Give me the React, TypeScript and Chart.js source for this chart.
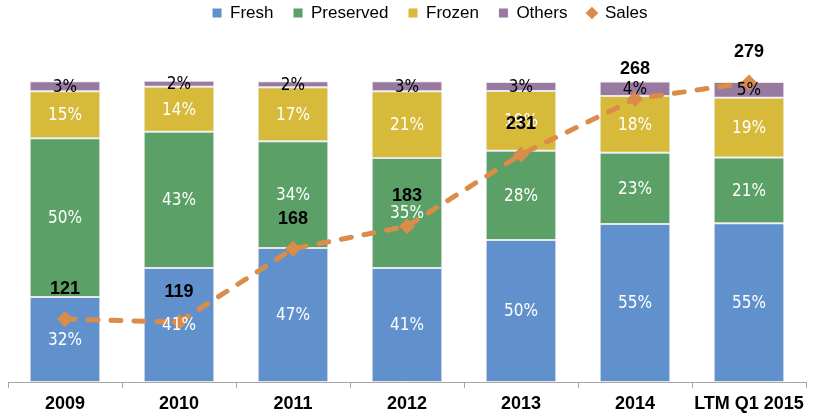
import React, { useEffect, useRef } from 'react';
import { Chart, registerables } from 'chart.js';

Chart.register(...registerables);

const categories = ['2009', '2010', '2011', '2012', '2013', '2014', 'LTM Q1 2015'];

// Segment shares (bar heights)
const freshShare = [28.2, 37.9, 44.5, 37.9, 47.2, 52.5, 52.7];
const preservedShare = [52.8, 45.2, 35.5, 36.5, 29.6, 23.7, 21.9];
const frozenShare = [15.6, 15.0, 17.9, 22.2, 19.9, 18.8, 19.8];
const othersShare = [3.3, 2.0, 2.0, 3.3, 3.0, 4.8, 5.3];

// Percent labels as printed on the bars
const freshLabels = ['32%', '41%', '47%', '41%', '50%', '55%', '55%'];
const preservedLabels = ['50%', '43%', '34%', '35%', '28%', '23%', '21%'];
const frozenLabels = ['15%', '14%', '17%', '21%', '19%', '18%', '19%'];
const othersLabels = ['3%', '2%', '2%', '3%', '3%', '4%', '5%'];

// Sales (line, secondary axis)
const sales = [121, 119, 168, 183, 231, 268, 279];

const BLUE = '#6191CD';
const GREEN = '#5BA167';
const YELLOW = '#D7BA39';
const PURPLE = '#9879A0';
const ORANGE = '#DA8C48';

const PCT_FONT = '17px "Liberation Sans Narrow", "DejaVu Sans Condensed", sans-serif';
const SALES_FONT = 'bold 18px "Liberation Sans", Arial, sans-serif';

const labelPlugin = {
  id: 'valueLabels',
  afterDatasetsDraw(chart: any) {
    const ctx = chart.ctx;
    ctx.save();
    ctx.textAlign = 'center';
    ctx.textBaseline = 'middle';
    const lists = [freshLabels, preservedLabels, frozenLabels, othersLabels];
    lists.forEach((list, di) => {
      const meta = chart.getDatasetMeta(di);
      ctx.font = PCT_FONT;
      ctx.fillStyle = di === 3 ? '#000000' : '#FFFFFF';
      meta.data.forEach((el: any, i: number) => {
        const p = el.getProps(['x', 'y', 'base'], true);
        ctx.fillText(list[i], p.x, (p.y + p.base) / 2 + 1);
      });
    });
    const lm = chart.getDatasetMeta(4);
    ctx.font = SALES_FONT;
    ctx.fillStyle = '#000000';
    lm.data.forEach((pt: any, i: number) => {
      ctx.fillText(String(sales[i]), pt.x, pt.y - 30);
    });
    ctx.restore();
  },
};

const legendSpacer = {
  id: 'legendSpacer',
  beforeInit(chart: any) {
    const fit = chart.legend.fit;
    chart.legend.fit = function () {
      fit.call(this);
      this.height += 49.5;
    };
  },
  afterLayout(chart: any) {
    if (chart.legend) {
      chart.legend.left += 20;
      chart.legend.right += 20;
    }
  },
};

export default function App() {
  const ref = useRef<HTMLCanvasElement | null>(null);

  useEffect(() => {
    if (!ref.current) return;
    const barCommon = {
      type: 'bar' as const,
      borderColor: '#E8E8E8',
      borderWidth: 1,
      borderSkipped: false,
      barPercentage: 0.62,
      categoryPercentage: 1,
      yAxisID: 'y',
      order: 1,
      pointStyle: 'rect',
    };
    const chart = new Chart(ref.current, {
      type: 'bar',
      data: {
        labels: categories,
        datasets: [
          { ...barCommon, label: 'Fresh', data: freshShare, backgroundColor: BLUE },
          { ...barCommon, label: 'Preserved', data: preservedShare, backgroundColor: GREEN },
          { ...barCommon, label: 'Frozen', data: frozenShare, backgroundColor: YELLOW },
          { ...barCommon, label: 'Others', data: othersShare, backgroundColor: PURPLE },
          {
            type: 'line',
            label: 'Sales',
            data: sales,
            yAxisID: 'y2',
            order: 0,
            borderColor: ORANGE,
            backgroundColor: ORANGE,
            borderWidth: 5,
            borderDash: [10, 13],
            borderCapStyle: 'round',
            tension: 0,
            pointStyle: 'rectRot',
            pointRadius: 8,
            pointBackgroundColor: ORANGE,
            pointBorderWidth: 0,
            clip: false,
          } as any,
        ],
      },
      options: {
        animation: false,
        responsive: true,
        maintainAspectRatio: false,
        layout: { padding: { top: -15.5, left: 7, right: 1, bottom: -2.6 } },
        plugins: {
          tooltip: { enabled: false },
          legend: {
            display: true,
            position: 'top',
            labels: {
              usePointStyle: true,
              boxWidth: 9,
              boxHeight: 9,
              padding: 20,
              color: '#000000',
              font: { family: '"Liberation Sans", Arial, sans-serif', size: 17 },
              sort: (a: any, b: any) => a.datasetIndex - b.datasetIndex,
              generateLabels(c: any) {
                const items = (Chart as any).defaults.plugins.legend.labels.generateLabels(c);
                items.forEach((it: any) => {
                  it.lineWidth = 0;
                  it.lineDash = [];
                  if (it.datasetIndex === 4) {
                    it.pointStyle = 'rectRot';
                    it.fillStyle = ORANGE;
                    it.strokeStyle = ORANGE;
                  } else {
                    it.pointStyle = 'rect';
                  }
                });
                return items;
              },
            },
          },
        },
        scales: {
          x: {
            stacked: true,
            offset: true,
            grid: {
              display: true,
              drawOnChartArea: false,
              drawTicks: true,
              tickLength: 6,
              color: '#A6A6A6',
              offset: true,
            },
            border: { display: true, color: '#A6A6A6', width: 1 },
            ticks: {
              color: '#000000',
              font: { family: '"Liberation Sans", Arial, sans-serif', weight: 'bold', size: 18 },
              padding: 5,
              maxRotation: 0,
              autoSkip: false,
            },
          },
          y: { stacked: true, display: false, min: 0, max: 100 },
          y2: { display: false, min: 79, max: 280 },
        },
      },
      plugins: [labelPlugin, legendSpacer],
    } as any);
    return () => chart.destroy();
  }, []);

  return (
    <div style={{ position: 'absolute', left: 0, top: 0, width: 814, height: 417 }}>
      <canvas ref={ref} />
    </div>
  );
}
